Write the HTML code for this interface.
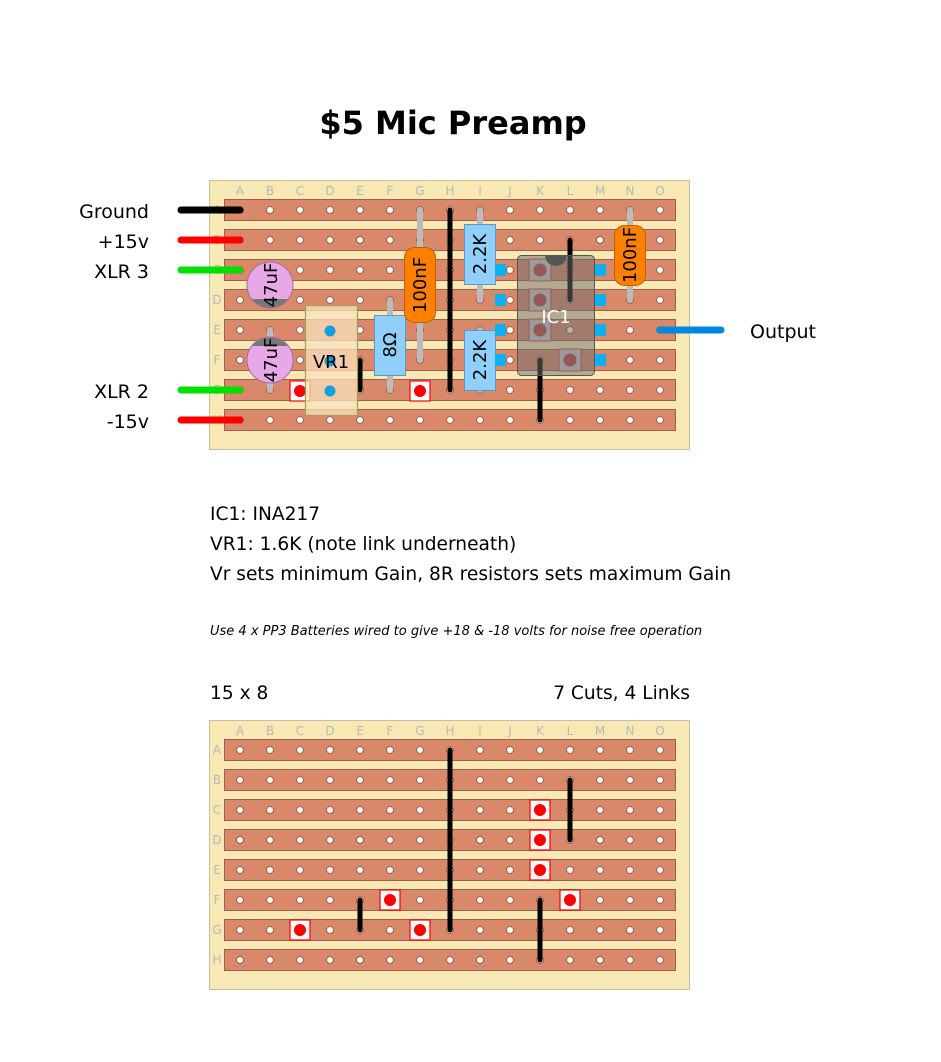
<!DOCTYPE html>
<html><head><meta charset="utf-8"><style>
body{margin:0;background:#fff;width:941px;height:1062px;overflow:hidden}
svg{position:absolute;left:0;top:0}
text{font-family:"DejaVu Sans","Liberation Sans",sans-serif}
</style></head><body>
<svg id="s" width="941" height="1062" xmlns="http://www.w3.org/2000/svg">
<text x="453" y="134" text-anchor="middle" font-size="32" font-weight="bold">$5 Mic Preamp</text>
<g font-size="19" text-anchor="end">
<text x="149" y="218">Ground</text>
<text x="149" y="248">+15v</text>
<text x="149" y="278">XLR 3</text>
<text x="149" y="398">XLR 2</text>
<text x="149" y="428">-15v</text>
</g>
<text x="750" y="338" font-size="19">Output</text>
<g font-size="18.6">
<text x="210" y="520">IC1: INA217</text>
<text x="210" y="550">VR1: 1.6K (note link underneath)</text>
<text x="210" y="580">Vr sets minimum Gain, 8R resistors sets maximum Gain</text>
<text x="210" y="699">15 x 8</text>
<text x="690" y="699" text-anchor="end">7 Cuts, 4 Links</text>
</g>
<text x="210" y="635" font-size="13" font-style="italic">Use 4 x PP3 Batteries wired to give +18 &amp; -18 volts for noise free operation</text>
<g id="b1"></g><g id="b2"></g><g id="c1"></g>
</svg>
<script>
var NS="http://www.w3.org/2000/svg";
function el(p,t,a,txt){var e=document.createElementNS(NS,t);for(var k in a)e.setAttribute(k,a[k]);if(txt)e.textContent=txt;p.appendChild(e);return e;}
var L="ABCDEFGHIJKLMNO";
function board(g,y0){
 el(g,"rect",{x:209.5,y:y0+0.5,width:480,height:269,fill:"#f8e8b4",stroke:"#c8c0a0"});
 for(var c=0;c<15;c++)el(g,"text",{x:240+30*c,y:y0+15,"font-size":12,fill:"#b8b8b8","text-anchor":"middle"},L[c]);
 for(var r=0;r<8;r++){var y=y0+30+30*r;
  el(g,"text",{x:217,y:y+4,"font-size":12,fill:"#b8b8b8","text-anchor":"middle"},L[r]);
  el(g,"rect",{x:224.5,y:y-10.5,width:451,height:21,fill:"#d9896a",stroke:"#9a6050"});
  for(var c=0;c<15;c++)el(g,"circle",{cx:240+30*c,cy:y,r:3.4,fill:"#fff",stroke:"#8a5040","stroke-width":0.8});}
}
function link(g,x,y1,y2,col,w){el(g,"line",{x1:x,y1:y1,x2:x,y2:y2,stroke:col||"#000","stroke-width":w||5,"stroke-linecap":"round"});}
function cut(g,x,y){el(g,"rect",{x:x-10,y:y-10,width:20,height:20,fill:"#fff",stroke:"#f00","stroke-width":1.2});el(g,"circle",{cx:x,cy:y,r:6,fill:"#f00"});}
var b1=document.getElementById("b1"),b2=document.getElementById("b2");
board(b1,180);board(b2,720);
function wire(y,c){el(b1,"line",{x1:181,y1:y,x2:240,y2:y,stroke:c,"stroke-width":7,"stroke-linecap":"round"});}
wire(210,"#000");wire(240,"#f00");wire(270,"#00e000");wire(390,"#00e000");wire(420,"#f00");
el(b1,"line",{x1:660,y1:330,x2:721,y2:330,stroke:"#0088e0","stroke-width":7,"stroke-linecap":"round"});
link(b1,270,330,390,"#bbb",6);
function ecap(cy,top){var cx=270;el(b1,"circle",{cx:cx,cy:cy,r:23,fill:"#e6a8e6",stroke:"#a070a0"});
 if(top)el(b1,"path",{d:"M"+(cx-18)+","+(cy-14)+" A23,23 0 0 1 "+(cx+18)+","+(cy-14)+" Z",fill:"#777"});
 else el(b1,"path",{d:"M"+(cx-18)+","+(cy+14)+" A23,23 0 0 0 "+(cx+18)+","+(cy+14)+" Z",fill:"#777"});
 el(b1,"text",{x:0,y:0,"font-size":18,"text-anchor":"middle",transform:"translate(270,"+cy+") rotate(-90)",dy:7},"47uF");}
ecap(285,false);ecap(360,true);
link(b1,390,300,390,"#bbb",6);
el(b1,"rect",{x:374.5,y:315.5,width:31,height:60,fill:"#8fcffa",stroke:"#5a9ac8"});
el(b1,"text",{"font-size":18,"text-anchor":"middle",transform:"translate(390,345) rotate(-90)",dy:6},"8Ω");
link(b1,420,210,360,"#bbb",6);
el(b1,"rect",{x:404.5,y:247.5,width:31,height:75,rx:10,fill:"#ff8000",stroke:"#c06000"});
el(b1,"text",{"font-size":18,"text-anchor":"middle",transform:"translate(420,285) rotate(-90)",dy:6},"100nF");
link(b1,450,210,390);
link(b1,480,210,300,"#bbb",6);link(b1,480,330,390,"#bbb",6);
el(b1,"rect",{x:464.5,y:224.5,width:31,height:60,fill:"#8fcffa",stroke:"#5a9ac8"});
el(b1,"text",{"font-size":18,"text-anchor":"middle",transform:"translate(480,254) rotate(-90)",dy:6},"2.2K");
el(b1,"rect",{x:464.5,y:330.5,width:31,height:60,fill:"#8fcffa",stroke:"#5a9ac8"});
el(b1,"text",{"font-size":18,"text-anchor":"middle",transform:"translate(480,360) rotate(-90)",dy:6},"2.2K");
link(b1,630,210,300,"#bbb",6);
el(b1,"rect",{x:614.5,y:225.5,width:31,height:60,rx:10,fill:"#ff8000",stroke:"#c06000"});
el(b1,"text",{"font-size":18,"text-anchor":"middle",transform:"translate(630,255) rotate(-90)",dy:6},"100nF");
link(b1,360,360,390);link(b1,570,240,300);link(b1,540,360,420);
cut(b1,300,391);cut(b1,420,391);
el(b1,"rect",{x:305.5,y:305.5,width:52,height:110,fill:"rgba(250,225,190,0.75)",stroke:"#a0a050","stroke-width":1.2});
[331,361,391].forEach(function(y){el(b1,"circle",{cx:330,cy:y,r:5.5,fill:"#10a0e0"});});
el(b1,"text",{x:331,y:368,"font-size":18,"text-anchor":"middle"},"VR1");
[270,300,330,360].forEach(function(y){el(b1,"rect",{x:495,y:y-6,width:11,height:12,fill:"#10b0f0"});el(b1,"rect",{x:595,y:y-6,width:11,height:12,fill:"#10b0f0"});});
function gcut(x,y){el(b1,"rect",{x:x-11,y:y-11,width:22,height:22,fill:"#c8c8c8",stroke:"#d04040"});el(b1,"circle",{cx:x,cy:y,r:6.5,fill:"#c04040"});}
gcut(540,270);gcut(540,300);gcut(540,330);gcut(570,360);
el(b1,"rect",{x:517.5,y:255.5,width:77,height:120,rx:4,fill:"rgba(110,110,110,0.5)",stroke:"#555"});
el(b1,"path",{d:"M545,255 A11,11 0 0 0 567,255 Z",fill:"#555"});
el(b1,"text",{x:556,y:323,"font-size":18,"text-anchor":"middle",fill:"#fff","font-family":"Liberation Serif,serif"},"IC1");
link(b2,450,750,930);link(b2,570,780,840);link(b2,360,900,930);link(b2,540,900,960);
cut(b2,540,810);cut(b2,540,840);cut(b2,540,870);cut(b2,390,900);cut(b2,570,900);cut(b2,300,930);cut(b2,420,930);
</script>
</body></html>
